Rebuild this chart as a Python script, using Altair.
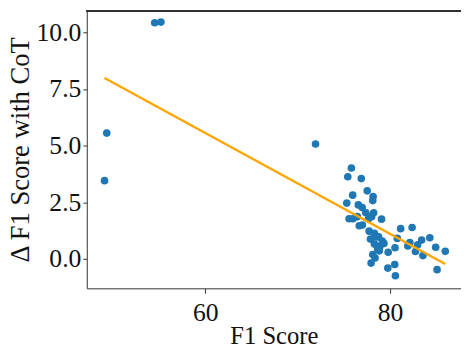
import altair as alt
import pandas as pd

f1_score = [
    49.34, 49.1, 54.53, 55.2, 71.93,
    75.81, 75.42, 76.88, 77.52, 78.16, 78.12, 75.95, 75.31, 76.56, 76.98,
    77.37, 78.22, 78.0, 75.56, 75.98, 76.45, 77.66, 79.07, 76.66, 77.0,
    81.14, 82.38, 77.73, 78.3, 78.75, 77.87, 80.78, 84.3, 83.41, 82.13,
    82.98, 81.92, 79.33, 78.3, 78.9, 80.53, 78.65, 84.93, 85.97, 82.74,
    79.79, 83.55, 78.12, 78.37, 77.94, 80.5, 79.75, 85.08, 80.57,
    78.5, 79.15, 78.83,
]
delta_f1_cot = [
    5.55, 3.45, 10.42, 10.45, 5.07,
    4.01, 3.62, 3.54, 3.0, 2.75, 2.57, 2.81, 2.46, 2.38, 2.26,
    2.03, 2.03, 1.86, 1.77, 1.77, 1.86, 1.77, 1.75, 1.46, 1.49,
    1.33, 1.38, 1.22, 1.13, 0.97, 0.87, 0.9, 0.93, 0.83, 0.72,
    0.62, 0.57, 0.68, 0.65, 0.55, 0.49, 0.43, 0.51, 0.33, 0.32,
    0.29, 0.14, 0.19, 0.04, -0.19, -0.25, -0.41, -0.48, -0.75,
    0.96, 0.78, 0.35,
]
x_ticks = [60, 80]
y_ticks = [0.0, 2.5, 5.0, 7.5, 10.0]

df = pd.DataFrame({"x": f1_score, "y": delta_f1_cot})

FONT = "Liberation Serif"
W, H = 380, 282

xs = alt.Scale(domain=[47.18, 87.67], nice=False, zero=False)
ys = alt.Scale(domain=[-1.304, 10.957], nice=False, zero=False)

x_axis = alt.Axis(values=x_ticks, format="d", grid=False, title="F1 Score",
                  labelFontSize=26, titleFontSize=25, labelFont=FONT, titleFont=FONT,
                  titleFontWeight="normal", labelColor="#111", titleColor="#111",
                  tickSize=5, labelPadding=7, titlePadding=-2,
                  domainColor="#333", tickColor="#333")
y_axis = alt.Axis(values=y_ticks, format=".1f", grid=False, title="Δ F1 Score with CoT",
                  labelFontSize=26, titleFontSize=27, labelFont=FONT, titleFont=FONT,
                  titleFontWeight="normal", labelColor="#111", titleColor="#111",
                  tickSize=4, labelPadding=2, titlePadding=2,
                  domainColor="#333", tickColor="#333")

points = alt.Chart(df).mark_circle(size=60, opacity=1, color="#1f77b4").encode(
    x=alt.X("x:Q", scale=xs, axis=x_axis),
    y=alt.Y("y:Q", scale=ys, axis=y_axis),
)

fit = alt.Chart(df).transform_regression("x", "y").mark_line(
    color="#ffa500", strokeWidth=2.5
).encode(
    x=alt.X("x:Q", scale=xs),
    y=alt.Y("y:Q", scale=ys),
)

top_border = alt.Chart(df).mark_rule(color="#333", strokeWidth=1).encode(
    x=alt.value(0), x2=alt.value(W), y=alt.value(0)
)

chart = alt.layer(points, fit, top_border).properties(
    width=W, height=H,
    autosize=alt.AutoSizeParams(type="none"),
    padding={"left": 80, "top": 0, "right": 0, "bottom": 62},
).configure_view(stroke=None)

chart.save("out.html", embed_options={"renderer": "svg", "actions": False})
